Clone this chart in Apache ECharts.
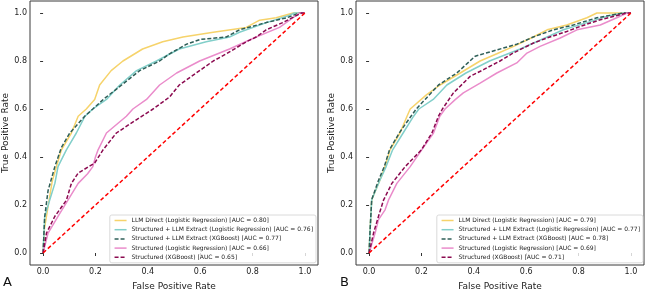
<!DOCTYPE html>
<html>
<head>
<meta charset="utf-8">
<script src="https://cdn.jsdelivr.net/npm/echarts@6/dist/echarts.min.js"></script>
<style>
  html, body { margin: 0; padding: 0; background: #fff; }
  #chart { width: 646px; height: 290px; }
</style>
</head>
<body>
<div id="chart"></div>
<script>
// tick labels shared by both panels
const TICKS = [0, 0.2, 0.4, 0.6, 0.8, 1.0]

// legend names
const NAMES_A = [
  'LLM Direct (Logistic Regression) [AUC = 0.80]',
  'Structured + LLM Extract (Logistic Regression) [AUC = 0.76]',
  'Structured + LLM Extract (XGBoost) [AUC = 0.77]',
  'Structured (Logistic Regression) [AUC = 0.66]',
  'Structured (XGBoost) [AUC = 0.65]'
]
const NAMES_B = [
  'LLM Direct (Logistic Regression) [AUC = 0.79]',
  'Structured + LLM Extract (Logistic Regression) [AUC = 0.77]',
  'Structured + LLM Extract (XGBoost) [AUC = 0.78]',
  'Structured (Logistic Regression) [AUC = 0.69]',
  'Structured (XGBoost) [AUC = 0.71]'
]

// ROC points [fpr, tpr], panel A
const A_LLM = [[0,0],[0.005,0.1],[0.02,0.2],[0.035,0.3],[0.051,0.36],[0.07,0.43],[0.108,0.5],[0.134,0.57],[0.165,0.6],[0.197,0.64],[0.216,0.7],[0.26,0.76],[0.305,0.8],[0.38,0.85],[0.457,0.88],[0.534,0.9],[0.65,0.92],[0.776,0.94],[0.827,0.97],[0.89,0.98],[0.955,1],[1,1]]
const A_SLLM_LR = [[0,0],[0.006,0.15],[0.025,0.22],[0.045,0.29],[0.057,0.36],[0.089,0.43],[0.127,0.5],[0.16,0.57],[0.19,0.6],[0.242,0.64],[0.293,0.7],[0.357,0.76],[0.433,0.8],[0.52,0.85],[0.623,0.88],[0.712,0.9],[0.75,0.92],[0.853,0.96],[0.94,0.99],[0.96,1],[1,1]]
const A_SLLM_XGB = [[0,0],[0.006,0.15],[0.019,0.26],[0.045,0.36],[0.07,0.44],[0.102,0.5],[0.159,0.57],[0.19,0.6],[0.23,0.64],[0.3,0.7],[0.369,0.76],[0.445,0.8],[0.483,0.83],[0.548,0.87],[0.6,0.89],[0.7,0.9],[0.75,0.93],[0.852,0.96],[0.93,0.98],[0.98,1],[1,1]]
const A_S_LR = [[0,0],[0.019,0.083],[0.057,0.153],[0.095,0.22],[0.134,0.29],[0.17,0.33],[0.19,0.36],[0.2,0.4],[0.21,0.43],[0.242,0.5],[0.318,0.57],[0.343,0.6],[0.395,0.64],[0.445,0.7],[0.51,0.75],[0.598,0.8],[0.712,0.85],[0.814,0.9],[0.903,0.94],[0.98,1],[1,1]]
const A_S_XGB = [[0,0],[0.013,0.083],[0.045,0.153],[0.089,0.22],[0.108,0.29],[0.134,0.333],[0.197,0.375],[0.229,0.43],[0.28,0.5],[0.356,0.555],[0.42,0.6],[0.483,0.65],[0.52,0.7],[0.585,0.75],[0.65,0.8],[0.7,0.83],[0.776,0.88],[0.814,0.9],[0.852,0.93],[0.915,0.96],[0.987,1],[1,1]]

// panel B
const B_LLM = [[0,0],[0.004,0.1],[0.01,0.222],[0.04,0.3],[0.061,0.36],[0.08,0.43],[0.118,0.5],[0.145,0.57],[0.157,0.6],[0.22,0.66],[0.271,0.7],[0.348,0.75],[0.424,0.8],[0.488,0.83],[0.55,0.86],[0.627,0.9],[0.68,0.93],[0.755,0.95],[0.832,0.98],[0.87,1],[1,1]]
const B_SLLM_LR = [[0,0],[0.004,0.1],[0.01,0.222],[0.04,0.3],[0.065,0.36],[0.09,0.43],[0.13,0.5],[0.17,0.57],[0.19,0.6],[0.245,0.64],[0.297,0.7],[0.37,0.75],[0.46,0.8],[0.577,0.85],[0.68,0.9],[0.742,0.93],[0.832,0.96],[0.92,0.99],[0.97,1],[1,1]]
const B_SLLM_XGB = [[0,0],[0.004,0.1],[0.01,0.222],[0.035,0.3],[0.058,0.36],[0.078,0.43],[0.115,0.5],[0.16,0.57],[0.18,0.6],[0.214,0.64],[0.265,0.7],[0.335,0.75],[0.405,0.82],[0.564,0.87],[0.627,0.9],[0.704,0.93],[0.78,0.95],[0.87,0.98],[0.97,1],[1,1]]
const B_S_LR = [[0,0],[0.023,0.083],[0.036,0.139],[0.061,0.18],[0.074,0.22],[0.106,0.29],[0.157,0.36],[0.201,0.43],[0.246,0.5],[0.27,0.57],[0.29,0.6],[0.33,0.64],[0.36,0.667],[0.424,0.708],[0.488,0.75],[0.564,0.792],[0.603,0.833],[0.653,0.861],[0.73,0.896],[0.794,0.93],[0.883,0.95],[0.946,0.98],[0.985,1],[1,1]]
const B_S_XGB = [[0,0],[0.017,0.083],[0.036,0.153],[0.055,0.22],[0.087,0.29],[0.138,0.36],[0.2,0.43],[0.24,0.5],[0.265,0.57],[0.28,0.6],[0.322,0.667],[0.386,0.736],[0.437,0.764],[0.5,0.8],[0.55,0.833],[0.628,0.875],[0.68,0.896],[0.755,0.923],[0.806,0.944],[0.883,0.972],[0.985,1],[1,1]]

const DIAG = [[0,0],[1,1]]

const YELLOW = '#F6D36B'
const TEAL = '#82CFCA'
const DARK_TEAL = '#2F5F58'
const PINK = '#EA8CCB'
const MAROON = '#8B0A50'
const RED = '#FF0000'
const FONT = 'DejaVu Sans'
const TEXT = '#222'

const STYLES = [
  { color: YELLOW, dash: 'solid' },
  { color: TEAL, dash: 'solid' },
  { color: DARK_TEAL, dash: [4, 2] },
  { color: PINK, dash: 'solid' },
  { color: MAROON, dash: [4, 2] }
]

const chart = echarts.init(document.getElementById('chart'), null, { renderer: 'canvas' })

// fixed plot boxes; v6 would otherwise shrink the grid to keep labels inside
const mkGrid = (left) => ({
  left, top: 1, width: 288, height: 264,
  outerBoundsMode: 'none', containLabel: false,
  show: true, borderColor: '#3a3a3a', borderWidth: 1, backgroundColor: 'transparent'
})

const mkX = (gi) => ({
  type: 'value', gridIndex: gi, min: -0.05, max: 1.05,
  name: 'False Positive Rate', nameLocation: 'middle', nameGap: 17,
  nameTextStyle: { fontFamily: FONT, fontSize: 9, color: TEXT },
  axisLine: { show: false },
  axisTick: { show: true, inside: false, length: 3, customValues: TICKS, lineStyle: { color: '#333' } },
  axisLabel: { customValues: TICKS, fontFamily: FONT, fontSize: 8, color: TEXT, margin: 3,
    formatter: (v) => v.toFixed(1) },
  splitLine: { show: false }
})

const mkY = (gi) => ({
  type: 'value', gridIndex: gi, min: -0.05, max: 1.05,
  name: 'True Positive Rate', nameLocation: 'middle', nameGap: 19,
  nameTextStyle: { fontFamily: FONT, fontSize: 9, color: TEXT },
  axisLine: { show: false },
  axisTick: { show: true, inside: false, length: 3, customValues: TICKS, lineStyle: { color: '#333' } },
  axisLabel: { customValues: TICKS, fontFamily: FONT, fontSize: 8, color: TEXT, margin: 3,
    formatter: (v) => v.toFixed(1) },
  splitLine: { show: false }
})

const mkSeries = (names, sets, gi) => {
  const out = names.map((name, i) => ({
    name, type: 'line', xAxisIndex: gi, yAxisIndex: gi,
    data: sets[i], symbol: 'none', smooth: false, silent: true,
    lineStyle: { color: STYLES[i].color, width: 1.5, type: STYLES[i].dash },
    itemStyle: { color: STYLES[i].color }
  }))
  out.push({
    name: 'chance ' + gi, type: 'line', xAxisIndex: gi, yAxisIndex: gi,
    data: DIAG, symbol: 'none', silent: true,
    lineStyle: { color: RED, width: 1.5, type: [4, 2.5] }
  })
  return out
}

// legend shows line samples only (hide the default circle marker)
const mkLegend = (names, right) => ({
  data: names, orient: 'vertical', right, top: 215,
  itemWidth: 12, itemHeight: 7, itemGap: 2.2, padding: [2, 3, 2, 4],
  backgroundColor: 'rgba(255,255,255,0.8)', borderColor: '#d0d0d0', borderWidth: 0.8, borderRadius: 2,
  itemStyle: { opacity: 0 },
  lineStyle: { width: 1.5 },
  textStyle: { fontFamily: FONT, fontSize: 6, color: TEXT, lineHeight: 7 },
  selectedMode: false
})

chart.setOption({
  animation: false,
  backgroundColor: '#fff',
  grid: [mkGrid(30), mkGrid(356)],
  xAxis: [mkX(0), mkX(1)],
  yAxis: [mkY(0), mkY(1)],
  legend: [mkLegend(NAMES_A, 330), mkLegend(NAMES_B, 3)],
  series: [
    ...mkSeries(NAMES_A, [A_LLM, A_SLLM_LR, A_SLLM_XGB, A_S_LR, A_S_XGB], 0),
    ...mkSeries(NAMES_B, [B_LLM, B_SLLM_LR, B_SLLM_XGB, B_S_LR, B_S_XGB], 1)
  ],
  graphic: [
    { type: 'text', left: 3, top: 276, style: { text: 'A', fontFamily: FONT, fontSize: 13, fill: '#111' } },
    { type: 'text', left: 340, top: 276, style: { text: 'B', fontFamily: FONT, fontSize: 13, fill: '#111' } }
  ]
})
</script>
</body>
</html>
